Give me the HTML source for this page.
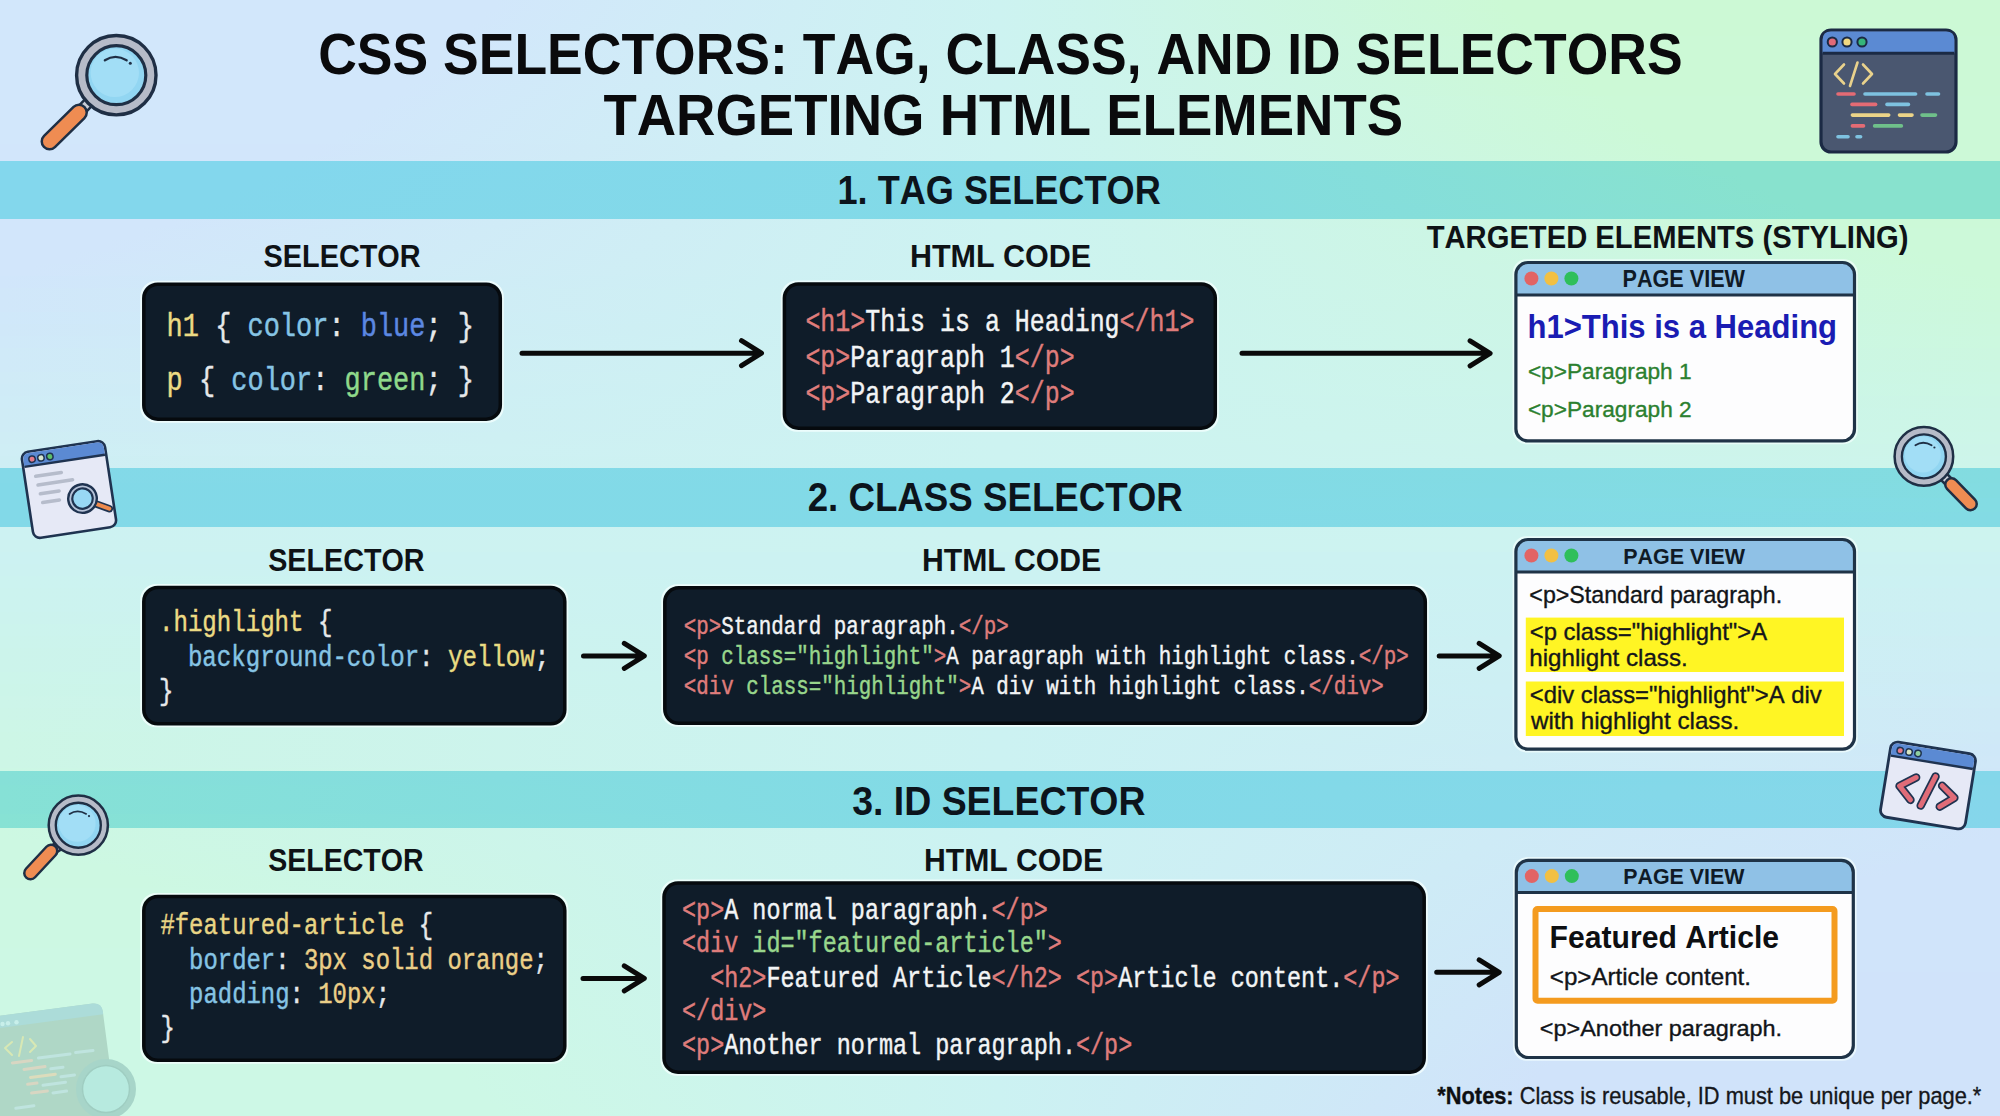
<!DOCTYPE html>
<html><head><meta charset="utf-8"><title>CSS Selectors</title>
<style>
html,body{margin:0;padding:0;width:2000px;height:1116px;overflow:hidden;background:#cfeaf2;}
svg{display:block;font-kerning:none;}
text{font-kerning:none;}
</style></head><body>
<svg width="2000" height="1116" viewBox="0 0 2000 1116">
<defs><linearGradient id="g1" x1="0" y1="0" x2="1" y2="0"><stop offset="0.0000" stop-color="#d2e7fb"/><stop offset="0.2471" stop-color="#d2e7fb"/><stop offset="0.5000" stop-color="#cdf3f1"/><stop offset="0.7529" stop-color="#ccf9d5"/><stop offset="1.0000" stop-color="#ccf9d5"/></linearGradient><linearGradient id="g2" x1="0" y1="0" x2="1" y2="0"><stop offset="0.0000" stop-color="#d2e7fb"/><stop offset="0.2414" stop-color="#d2e7fb"/><stop offset="0.5000" stop-color="#cdf3f1"/><stop offset="0.7586" stop-color="#ccf9d5"/><stop offset="1.0000" stop-color="#ccf9d5"/></linearGradient><linearGradient id="g3" x1="0" y1="0" x2="1" y2="0"><stop offset="0.0000" stop-color="#d2e7fb"/><stop offset="0.2355" stop-color="#d2e7fb"/><stop offset="0.5000" stop-color="#cdf3f1"/><stop offset="0.7645" stop-color="#ccf9d5"/><stop offset="1.0000" stop-color="#ccf9d5"/></linearGradient><linearGradient id="g4" x1="0" y1="0" x2="1" y2="0"><stop offset="0.0000" stop-color="#d2e7fb"/><stop offset="0.2294" stop-color="#d2e7fb"/><stop offset="0.5000" stop-color="#cdf3f1"/><stop offset="0.7706" stop-color="#ccf9d6"/><stop offset="1.0000" stop-color="#ccf9d6"/></linearGradient><linearGradient id="g5" x1="0" y1="0" x2="1" y2="0"><stop offset="0.0000" stop-color="#d2e7fb"/><stop offset="0.2229" stop-color="#d2e7fb"/><stop offset="0.5000" stop-color="#cdf3f1"/><stop offset="0.7771" stop-color="#ccf9d6"/><stop offset="1.0000" stop-color="#ccf9d6"/></linearGradient><linearGradient id="g6" x1="0" y1="0" x2="1" y2="0"><stop offset="0.0000" stop-color="#d2e7fb"/><stop offset="0.2162" stop-color="#d2e7fb"/><stop offset="0.5000" stop-color="#cdf3f1"/><stop offset="0.7838" stop-color="#ccf9d6"/><stop offset="1.0000" stop-color="#ccf9d6"/></linearGradient><linearGradient id="g7" x1="0" y1="0" x2="1" y2="0"><stop offset="0.0000" stop-color="#d2e7fb"/><stop offset="0.2091" stop-color="#d2e7fb"/><stop offset="0.5000" stop-color="#cdf3f1"/><stop offset="0.7909" stop-color="#ccf9d6"/><stop offset="1.0000" stop-color="#ccf9d6"/></linearGradient><linearGradient id="g8" x1="0" y1="0" x2="1" y2="0"><stop offset="0.0000" stop-color="#d2e7fb"/><stop offset="0.2016" stop-color="#d2e7fb"/><stop offset="0.5000" stop-color="#cdf3f1"/><stop offset="0.7984" stop-color="#ccf9d6"/><stop offset="1.0000" stop-color="#ccf9d6"/></linearGradient><linearGradient id="g9" x1="0" y1="0" x2="1" y2="0"><stop offset="0.0000" stop-color="#d2e7fb"/><stop offset="0.1937" stop-color="#d2e7fb"/><stop offset="0.5000" stop-color="#cdf3f1"/><stop offset="0.8063" stop-color="#ccf9d7"/><stop offset="1.0000" stop-color="#ccf9d7"/></linearGradient><linearGradient id="g10" x1="0" y1="0" x2="1" y2="0"><stop offset="0.0000" stop-color="#d2e7fb"/><stop offset="0.1855" stop-color="#d2e7fb"/><stop offset="0.5000" stop-color="#cdf3f1"/><stop offset="0.8145" stop-color="#ccf9d7"/><stop offset="1.0000" stop-color="#ccf9d7"/></linearGradient><linearGradient id="g11" x1="0" y1="0" x2="1" y2="0"><stop offset="0.0000" stop-color="#d2e7fb"/><stop offset="0.1767" stop-color="#d2e7fb"/><stop offset="0.5000" stop-color="#cdf3f1"/><stop offset="0.8233" stop-color="#ccf9d7"/><stop offset="1.0000" stop-color="#ccf9d7"/></linearGradient><linearGradient id="g12" x1="0" y1="0" x2="1" y2="0"><stop offset="0.0000" stop-color="#d2e7fb"/><stop offset="0.1675" stop-color="#d2e7fb"/><stop offset="0.5000" stop-color="#cdf3f1"/><stop offset="0.8325" stop-color="#ccf9d7"/><stop offset="1.0000" stop-color="#ccf9d7"/></linearGradient><linearGradient id="g13" x1="0" y1="0" x2="1" y2="0"><stop offset="0.0000" stop-color="#d2e6fb"/><stop offset="0.1577" stop-color="#d2e6fb"/><stop offset="0.5000" stop-color="#cdf3f1"/><stop offset="0.8423" stop-color="#ccf9d7"/><stop offset="1.0000" stop-color="#ccf9d7"/></linearGradient><linearGradient id="g14" x1="0" y1="0" x2="1" y2="0"><stop offset="0.0000" stop-color="#d2e6fb"/><stop offset="0.1473" stop-color="#d2e6fb"/><stop offset="0.5000" stop-color="#cdf3f1"/><stop offset="0.8527" stop-color="#ccf9d7"/><stop offset="1.0000" stop-color="#ccf9d7"/></linearGradient><linearGradient id="g15" x1="0" y1="0" x2="1" y2="0"><stop offset="0.0000" stop-color="#d2e6fb"/><stop offset="0.1362" stop-color="#d2e6fb"/><stop offset="0.5000" stop-color="#cdf3f1"/><stop offset="0.8638" stop-color="#ccf9d8"/><stop offset="1.0000" stop-color="#ccf9d8"/></linearGradient><linearGradient id="g16" x1="0" y1="0" x2="1" y2="0"><stop offset="0.0000" stop-color="#d2e6fb"/><stop offset="0.1245" stop-color="#d2e6fb"/><stop offset="0.5000" stop-color="#cdf3f1"/><stop offset="0.8755" stop-color="#ccf9d8"/><stop offset="1.0000" stop-color="#ccf9d8"/></linearGradient><linearGradient id="g17" x1="0" y1="0" x2="1" y2="0"><stop offset="0.0000" stop-color="#d2e6fb"/><stop offset="0.1120" stop-color="#d2e6fb"/><stop offset="0.5000" stop-color="#cdf3f1"/><stop offset="0.8880" stop-color="#ccf9d8"/><stop offset="1.0000" stop-color="#ccf9d8"/></linearGradient><linearGradient id="g18" x1="0" y1="0" x2="1" y2="0"><stop offset="0.0000" stop-color="#d2e6fb"/><stop offset="0.0986" stop-color="#d2e6fb"/><stop offset="0.5000" stop-color="#cdf3f1"/><stop offset="0.9014" stop-color="#ccf9d8"/><stop offset="1.0000" stop-color="#ccf9d8"/></linearGradient><linearGradient id="g19" x1="0" y1="0" x2="1" y2="0"><stop offset="0.0000" stop-color="#d2e6fb"/><stop offset="0.0842" stop-color="#d2e6fb"/><stop offset="0.5000" stop-color="#cdf3f1"/><stop offset="0.9158" stop-color="#ccf9d8"/><stop offset="1.0000" stop-color="#ccf9d8"/></linearGradient><linearGradient id="g20" x1="0" y1="0" x2="1" y2="0"><stop offset="0.0000" stop-color="#d2e6fb"/><stop offset="0.0688" stop-color="#d2e6fb"/><stop offset="0.5000" stop-color="#cdf3f1"/><stop offset="0.9312" stop-color="#ccf9d9"/><stop offset="1.0000" stop-color="#ccf9d9"/></linearGradient><linearGradient id="g21" x1="0" y1="0" x2="1" y2="0"><stop offset="0.0000" stop-color="#d2e6fb"/><stop offset="0.0522" stop-color="#d2e6fb"/><stop offset="0.5000" stop-color="#cdf3f1"/><stop offset="0.9478" stop-color="#ccf9d9"/><stop offset="1.0000" stop-color="#ccf9d9"/></linearGradient><linearGradient id="g22" x1="0" y1="0" x2="1" y2="0"><stop offset="0.0000" stop-color="#d2e6fb"/><stop offset="0.0342" stop-color="#d2e6fb"/><stop offset="0.5000" stop-color="#cdf3f1"/><stop offset="0.9658" stop-color="#ccf9d9"/><stop offset="1.0000" stop-color="#ccf9d9"/></linearGradient><linearGradient id="g23" x1="0" y1="0" x2="1" y2="0"><stop offset="0.0000" stop-color="#d2e6fb"/><stop offset="0.0148" stop-color="#d2e6fb"/><stop offset="0.5000" stop-color="#cdf3f1"/><stop offset="0.9852" stop-color="#ccf9d9"/><stop offset="1.0000" stop-color="#ccf9d9"/></linearGradient><linearGradient id="g24" x1="0" y1="0" x2="1" y2="0"><stop offset="0.0000" stop-color="#d1e6fb"/><stop offset="0.5000" stop-color="#cdf3f1"/><stop offset="1.0000" stop-color="#ccf9d9"/></linearGradient><linearGradient id="g25" x1="0" y1="0" x2="1" y2="0"><stop offset="0.0000" stop-color="#d1e7fa"/><stop offset="0.5000" stop-color="#cdf3f1"/><stop offset="1.0000" stop-color="#ccf9da"/></linearGradient><linearGradient id="g26" x1="0" y1="0" x2="1" y2="0"><stop offset="0.0000" stop-color="#d1e7fa"/><stop offset="0.5000" stop-color="#cdf3f1"/><stop offset="1.0000" stop-color="#ccf8dc"/></linearGradient><linearGradient id="g27" x1="0" y1="0" x2="1" y2="0"><stop offset="0.0000" stop-color="#d0e8fa"/><stop offset="0.5000" stop-color="#cdf3f1"/><stop offset="1.0000" stop-color="#ccf8dd"/></linearGradient><linearGradient id="g28" x1="0" y1="0" x2="1" y2="0"><stop offset="0.0000" stop-color="#d0e8f9"/><stop offset="0.5000" stop-color="#cdf3f1"/><stop offset="1.0000" stop-color="#ccf8de"/></linearGradient><linearGradient id="g29" x1="0" y1="0" x2="1" y2="0"><stop offset="0.0000" stop-color="#d0e9f9"/><stop offset="0.5000" stop-color="#cdf3f1"/><stop offset="1.0000" stop-color="#ccf8df"/></linearGradient><linearGradient id="g30" x1="0" y1="0" x2="1" y2="0"><stop offset="0.0000" stop-color="#d0eaf8"/><stop offset="0.5000" stop-color="#cdf3f1"/><stop offset="1.0000" stop-color="#ccf7e0"/></linearGradient><linearGradient id="g31" x1="0" y1="0" x2="1" y2="0"><stop offset="0.0000" stop-color="#d0eaf8"/><stop offset="0.5000" stop-color="#cdf3f1"/><stop offset="1.0000" stop-color="#ccf7e2"/></linearGradient><linearGradient id="g32" x1="0" y1="0" x2="1" y2="0"><stop offset="0.0000" stop-color="#d0ebf7"/><stop offset="0.5000" stop-color="#cdf3f1"/><stop offset="1.0000" stop-color="#ccf7e3"/></linearGradient><linearGradient id="g33" x1="0" y1="0" x2="1" y2="0"><stop offset="0.0000" stop-color="#cfebf7"/><stop offset="0.5000" stop-color="#cdf3f1"/><stop offset="1.0000" stop-color="#ccf7e4"/></linearGradient><linearGradient id="g34" x1="0" y1="0" x2="1" y2="0"><stop offset="0.0000" stop-color="#cfecf7"/><stop offset="0.5000" stop-color="#cdf3f1"/><stop offset="1.0000" stop-color="#ccf6e5"/></linearGradient><linearGradient id="g35" x1="0" y1="0" x2="1" y2="0"><stop offset="0.0000" stop-color="#cfecf6"/><stop offset="0.5000" stop-color="#cdf3f1"/><stop offset="1.0000" stop-color="#ccf6e6"/></linearGradient><linearGradient id="g36" x1="0" y1="0" x2="1" y2="0"><stop offset="0.0000" stop-color="#cfecf6"/><stop offset="0.5000" stop-color="#cdf3f1"/><stop offset="1.0000" stop-color="#cdf6e7"/></linearGradient><linearGradient id="g37" x1="0" y1="0" x2="1" y2="0"><stop offset="0.0000" stop-color="#cfedf5"/><stop offset="0.5000" stop-color="#cdf3f1"/><stop offset="1.0000" stop-color="#cdf6e8"/></linearGradient><linearGradient id="g38" x1="0" y1="0" x2="1" y2="0"><stop offset="0.0000" stop-color="#cfeef5"/><stop offset="0.5000" stop-color="#cdf3f1"/><stop offset="1.0000" stop-color="#cdf5e9"/></linearGradient><linearGradient id="g39" x1="0" y1="0" x2="1" y2="0"><stop offset="0.0000" stop-color="#ceeef4"/><stop offset="0.5000" stop-color="#cdf3f1"/><stop offset="1.0000" stop-color="#cdf5ea"/></linearGradient><linearGradient id="g40" x1="0" y1="0" x2="1" y2="0"><stop offset="0.0000" stop-color="#ceeff4"/><stop offset="0.5000" stop-color="#cdf3f1"/><stop offset="1.0000" stop-color="#cdf5eb"/></linearGradient><linearGradient id="g41" x1="0" y1="0" x2="1" y2="0"><stop offset="0.0000" stop-color="#ceeff4"/><stop offset="0.5000" stop-color="#cdf3f1"/><stop offset="1.0000" stop-color="#cdf5ec"/></linearGradient><linearGradient id="g42" x1="0" y1="0" x2="1" y2="0"><stop offset="0.0000" stop-color="#cef0f3"/><stop offset="0.5000" stop-color="#cdf3f1"/><stop offset="1.0000" stop-color="#cdf4ed"/></linearGradient><linearGradient id="g43" x1="0" y1="0" x2="1" y2="0"><stop offset="0.0000" stop-color="#cef1f3"/><stop offset="0.5000" stop-color="#cdf3f1"/><stop offset="1.0000" stop-color="#cdf4ee"/></linearGradient><linearGradient id="g44" x1="0" y1="0" x2="1" y2="0"><stop offset="0.0000" stop-color="#cef1f2"/><stop offset="0.5000" stop-color="#cdf3f1"/><stop offset="1.0000" stop-color="#cdf4ee"/></linearGradient><linearGradient id="g45" x1="0" y1="0" x2="1" y2="0"><stop offset="0.0000" stop-color="#cdf2f2"/><stop offset="0.5000" stop-color="#cdf3f1"/><stop offset="1.0000" stop-color="#cdf4ef"/></linearGradient><linearGradient id="g46" x1="0" y1="0" x2="1" y2="0"><stop offset="0.0000" stop-color="#cdf2f1"/><stop offset="0.5000" stop-color="#cdf3f1"/><stop offset="1.0000" stop-color="#cdf3f0"/></linearGradient><linearGradient id="g47" x1="0" y1="0" x2="1" y2="0"><stop offset="0.0000" stop-color="#ccf2f2"/><stop offset="0.5000" stop-color="#ccf2f2"/><stop offset="1.0000" stop-color="#ccf2f2"/></linearGradient><linearGradient id="g48" x1="0" y1="0" x2="1" y2="0"><stop offset="0.0000" stop-color="#ccf2f1"/><stop offset="0.5000" stop-color="#ccf2f2"/><stop offset="1.0000" stop-color="#ccf1f2"/></linearGradient><linearGradient id="g49" x1="0" y1="0" x2="1" y2="0"><stop offset="0.0000" stop-color="#ccf3f0"/><stop offset="0.5000" stop-color="#ccf2f2"/><stop offset="1.0000" stop-color="#ccf1f3"/></linearGradient><linearGradient id="g50" x1="0" y1="0" x2="1" y2="0"><stop offset="0.0000" stop-color="#ccf3ef"/><stop offset="0.5000" stop-color="#ccf2f2"/><stop offset="1.0000" stop-color="#cdf0f3"/></linearGradient><linearGradient id="g51" x1="0" y1="0" x2="1" y2="0"><stop offset="0.0000" stop-color="#ccf3ef"/><stop offset="0.5000" stop-color="#ccf2f2"/><stop offset="1.0000" stop-color="#cdf0f3"/></linearGradient><linearGradient id="g52" x1="0" y1="0" x2="1" y2="0"><stop offset="0.0000" stop-color="#ccf3ee"/><stop offset="0.5000" stop-color="#ccf2f2"/><stop offset="1.0000" stop-color="#cdeff4"/></linearGradient><linearGradient id="g53" x1="0" y1="0" x2="1" y2="0"><stop offset="0.0000" stop-color="#ccf4ed"/><stop offset="0.5000" stop-color="#ccf2f2"/><stop offset="1.0000" stop-color="#cdeff4"/></linearGradient><linearGradient id="g54" x1="0" y1="0" x2="1" y2="0"><stop offset="0.0000" stop-color="#ccf4ec"/><stop offset="0.5000" stop-color="#ccf2f2"/><stop offset="1.0000" stop-color="#ceeef4"/></linearGradient><linearGradient id="g55" x1="0" y1="0" x2="1" y2="0"><stop offset="0.0000" stop-color="#ccf4eb"/><stop offset="0.5000" stop-color="#ccf2f2"/><stop offset="1.0000" stop-color="#ceeef5"/></linearGradient><linearGradient id="g56" x1="0" y1="0" x2="1" y2="0"><stop offset="0.0000" stop-color="#ccf4eb"/><stop offset="0.5000" stop-color="#ccf2f2"/><stop offset="1.0000" stop-color="#ceedf5"/></linearGradient><linearGradient id="g57" x1="0" y1="0" x2="1" y2="0"><stop offset="0.0000" stop-color="#ccf5ea"/><stop offset="0.5000" stop-color="#ccf2f2"/><stop offset="1.0000" stop-color="#ceecf5"/></linearGradient><linearGradient id="g58" x1="0" y1="0" x2="1" y2="0"><stop offset="0.0000" stop-color="#ccf5e9"/><stop offset="0.5000" stop-color="#ccf2f2"/><stop offset="1.0000" stop-color="#ceecf6"/></linearGradient><linearGradient id="g59" x1="0" y1="0" x2="1" y2="0"><stop offset="0.0000" stop-color="#cdf5e9"/><stop offset="0.5000" stop-color="#ccf2f2"/><stop offset="1.0000" stop-color="#cfebf6"/></linearGradient><linearGradient id="g60" x1="0" y1="0" x2="1" y2="0"><stop offset="0.0000" stop-color="#cdf5e8"/><stop offset="0.5000" stop-color="#ccf2f2"/><stop offset="1.0000" stop-color="#cfeaf6"/></linearGradient><linearGradient id="g61" x1="0" y1="0" x2="1" y2="0"><stop offset="0.0000" stop-color="#cdf6e7"/><stop offset="0.5000" stop-color="#ccf2f2"/><stop offset="1.0000" stop-color="#cfeaf7"/></linearGradient><linearGradient id="g62" x1="0" y1="0" x2="1" y2="0"><stop offset="0.0000" stop-color="#cdf6e6"/><stop offset="0.5000" stop-color="#ccf2f2"/><stop offset="1.0000" stop-color="#cfe9f7"/></linearGradient><linearGradient id="g63" x1="0" y1="0" x2="1" y2="0"><stop offset="0.0000" stop-color="#cdf6e6"/><stop offset="0.5000" stop-color="#ccf2f2"/><stop offset="1.0000" stop-color="#cfe8f8"/></linearGradient><linearGradient id="g64" x1="0" y1="0" x2="1" y2="0"><stop offset="0.0000" stop-color="#cdf6e6"/><stop offset="0.5000" stop-color="#ccf2f2"/><stop offset="1.0000" stop-color="#d0e8f8"/></linearGradient><linearGradient id="g65" x1="0" y1="0" x2="1" y2="0"><stop offset="0.0000" stop-color="#cdf7e5"/><stop offset="0.5000" stop-color="#ccf2f2"/><stop offset="1.0000" stop-color="#d0e7f8"/></linearGradient><linearGradient id="g66" x1="0" y1="0" x2="1" y2="0"><stop offset="0.0000" stop-color="#cdf7e4"/><stop offset="0.5000" stop-color="#ccf2f2"/><stop offset="1.0000" stop-color="#d0e7f9"/></linearGradient><linearGradient id="g67" x1="0" y1="0" x2="1" y2="0"><stop offset="0.0000" stop-color="#cdf7e3"/><stop offset="0.5000" stop-color="#ccf2f2"/><stop offset="1.0000" stop-color="#d0e6f9"/></linearGradient><linearGradient id="g68" x1="0" y1="0" x2="1" y2="0"><stop offset="0.0000" stop-color="#cdf7e3"/><stop offset="0.5000" stop-color="#ccf2f2"/><stop offset="1.0000" stop-color="#d1e5f9"/></linearGradient><linearGradient id="g69" x1="0" y1="0" x2="1" y2="0"><stop offset="0.0000" stop-color="#cdf8e3"/><stop offset="0.5000" stop-color="#ccf2f2"/><stop offset="1.0000" stop-color="#d1e5fa"/></linearGradient><linearGradient id="g70" x1="0" y1="0" x2="1" y2="0"><stop offset="0.0000" stop-color="#cdf8e2"/><stop offset="0.5000" stop-color="#ccf2f2"/><stop offset="1.0000" stop-color="#d1e4fa"/></linearGradient><linearGradient id="g71" x1="0" y1="0" x2="1" y2="0"><stop offset="0.0000" stop-color="#cdf8e2"/><stop offset="0.0165" stop-color="#cdf8e2"/><stop offset="0.5000" stop-color="#ccf2f2"/><stop offset="0.9835" stop-color="#d0e4fa"/><stop offset="1.0000" stop-color="#d0e4fa"/></linearGradient><linearGradient id="g72" x1="0" y1="0" x2="1" y2="0"><stop offset="0.0000" stop-color="#cdf8e2"/><stop offset="0.0358" stop-color="#cdf8e2"/><stop offset="0.5000" stop-color="#ccf2f2"/><stop offset="0.9642" stop-color="#d0e4fa"/><stop offset="1.0000" stop-color="#d0e4fa"/></linearGradient><linearGradient id="g73" x1="0" y1="0" x2="1" y2="0"><stop offset="0.0000" stop-color="#cdf8e2"/><stop offset="0.0536" stop-color="#cdf8e2"/><stop offset="0.5000" stop-color="#ccf2f2"/><stop offset="0.9464" stop-color="#d0e4fa"/><stop offset="1.0000" stop-color="#d0e4fa"/></linearGradient><linearGradient id="g74" x1="0" y1="0" x2="1" y2="0"><stop offset="0.0000" stop-color="#cdf8e2"/><stop offset="0.0701" stop-color="#cdf8e2"/><stop offset="0.5000" stop-color="#ccf2f2"/><stop offset="0.9299" stop-color="#d0e4fa"/><stop offset="1.0000" stop-color="#d0e4fa"/></linearGradient><linearGradient id="g75" x1="0" y1="0" x2="1" y2="0"><stop offset="0.0000" stop-color="#cdf8e3"/><stop offset="0.0854" stop-color="#cdf8e3"/><stop offset="0.5000" stop-color="#ccf2f2"/><stop offset="0.9146" stop-color="#d0e4fa"/><stop offset="1.0000" stop-color="#d0e4fa"/></linearGradient><linearGradient id="g76" x1="0" y1="0" x2="1" y2="0"><stop offset="0.0000" stop-color="#cdf8e3"/><stop offset="0.0997" stop-color="#cdf8e3"/><stop offset="0.5000" stop-color="#ccf2f2"/><stop offset="0.9003" stop-color="#d0e4fa"/><stop offset="1.0000" stop-color="#d0e4fa"/></linearGradient><linearGradient id="g77" x1="0" y1="0" x2="1" y2="0"><stop offset="0.0000" stop-color="#cdf8e3"/><stop offset="0.1130" stop-color="#cdf8e3"/><stop offset="0.5000" stop-color="#ccf2f2"/><stop offset="0.8870" stop-color="#d0e4fa"/><stop offset="1.0000" stop-color="#d0e4fa"/></linearGradient><linearGradient id="g78" x1="0" y1="0" x2="1" y2="0"><stop offset="0.0000" stop-color="#cdf8e3"/><stop offset="0.1255" stop-color="#cdf8e3"/><stop offset="0.5000" stop-color="#ccf2f2"/><stop offset="0.8745" stop-color="#d0e4fa"/><stop offset="1.0000" stop-color="#d0e4fa"/></linearGradient><linearGradient id="g79" x1="0" y1="0" x2="1" y2="0"><stop offset="0.0000" stop-color="#cdf8e3"/><stop offset="0.1372" stop-color="#cdf8e3"/><stop offset="0.5000" stop-color="#ccf2f2"/><stop offset="0.8628" stop-color="#d0e4fa"/><stop offset="1.0000" stop-color="#d0e4fa"/></linearGradient><linearGradient id="g80" x1="0" y1="0" x2="1" y2="0"><stop offset="0.0000" stop-color="#cdf8e4"/><stop offset="0.1482" stop-color="#cdf8e4"/><stop offset="0.5000" stop-color="#ccf2f2"/><stop offset="0.8518" stop-color="#d0e4fa"/><stop offset="1.0000" stop-color="#d0e4fa"/></linearGradient><linearGradient id="g81" x1="0" y1="0" x2="1" y2="0"><stop offset="0.0000" stop-color="#cdf8e4"/><stop offset="0.1585" stop-color="#cdf8e4"/><stop offset="0.5000" stop-color="#ccf2f2"/><stop offset="0.8415" stop-color="#d0e4fa"/><stop offset="1.0000" stop-color="#d0e4fa"/></linearGradient><linearGradient id="g82" x1="0" y1="0" x2="1" y2="0"><stop offset="0.0000" stop-color="#cdf8e4"/><stop offset="0.1683" stop-color="#cdf8e4"/><stop offset="0.5000" stop-color="#ccf2f2"/><stop offset="0.8317" stop-color="#d0e3fa"/><stop offset="1.0000" stop-color="#d0e3fa"/></linearGradient><linearGradient id="g83" x1="0" y1="0" x2="1" y2="0"><stop offset="0.0000" stop-color="#cdf8e4"/><stop offset="0.1775" stop-color="#cdf8e4"/><stop offset="0.5000" stop-color="#ccf2f2"/><stop offset="0.8225" stop-color="#d0e3fa"/><stop offset="1.0000" stop-color="#d0e3fa"/></linearGradient><linearGradient id="g84" x1="0" y1="0" x2="1" y2="0"><stop offset="0.0000" stop-color="#cdf8e4"/><stop offset="0.1862" stop-color="#cdf8e4"/><stop offset="0.5000" stop-color="#ccf2f2"/><stop offset="0.8138" stop-color="#d0e3fa"/><stop offset="1.0000" stop-color="#d0e3fa"/></linearGradient><linearGradient id="g85" x1="0" y1="0" x2="1" y2="0"><stop offset="0.0000" stop-color="#cdf8e4"/><stop offset="0.1944" stop-color="#cdf8e4"/><stop offset="0.5000" stop-color="#ccf2f2"/><stop offset="0.8056" stop-color="#d0e3fa"/><stop offset="1.0000" stop-color="#d0e3fa"/></linearGradient><linearGradient id="g86" x1="0" y1="0" x2="1" y2="0"><stop offset="0.0000" stop-color="#cdf8e5"/><stop offset="0.2022" stop-color="#cdf8e5"/><stop offset="0.5000" stop-color="#ccf2f2"/><stop offset="0.7978" stop-color="#d0e3fa"/><stop offset="1.0000" stop-color="#d0e3fa"/></linearGradient><linearGradient id="g87" x1="0" y1="0" x2="1" y2="0"><stop offset="0.0000" stop-color="#cdf8e5"/><stop offset="0.2097" stop-color="#cdf8e5"/><stop offset="0.5000" stop-color="#ccf2f2"/><stop offset="0.7903" stop-color="#d0e3fa"/><stop offset="1.0000" stop-color="#d0e3fa"/></linearGradient><linearGradient id="g88" x1="0" y1="0" x2="1" y2="0"><stop offset="0.0000" stop-color="#cdf8e5"/><stop offset="0.2168" stop-color="#cdf8e5"/><stop offset="0.5000" stop-color="#ccf2f2"/><stop offset="0.7832" stop-color="#d0e3fa"/><stop offset="1.0000" stop-color="#d0e3fa"/></linearGradient><linearGradient id="g89" x1="0" y1="0" x2="1" y2="0"><stop offset="0.0000" stop-color="#cdf8e5"/><stop offset="0.2235" stop-color="#cdf8e5"/><stop offset="0.5000" stop-color="#ccf2f2"/><stop offset="0.7765" stop-color="#d0e3fa"/><stop offset="1.0000" stop-color="#d0e3fa"/></linearGradient><linearGradient id="g90" x1="0" y1="0" x2="1" y2="0"><stop offset="0.0000" stop-color="#cdf8e5"/><stop offset="0.2299" stop-color="#cdf8e5"/><stop offset="0.5000" stop-color="#ccf2f2"/><stop offset="0.7701" stop-color="#d0e3fa"/><stop offset="1.0000" stop-color="#d0e3fa"/></linearGradient><linearGradient id="g91" x1="0" y1="0" x2="1" y2="0"><stop offset="0.0000" stop-color="#cdf8e6"/><stop offset="0.2360" stop-color="#cdf8e6"/><stop offset="0.5000" stop-color="#ccf2f2"/><stop offset="0.7640" stop-color="#d0e3fa"/><stop offset="1.0000" stop-color="#d0e3fa"/></linearGradient><linearGradient id="g92" x1="0" y1="0" x2="1" y2="0"><stop offset="0.0000" stop-color="#cdf8e6"/><stop offset="0.2419" stop-color="#cdf8e6"/><stop offset="0.5000" stop-color="#ccf2f2"/><stop offset="0.7581" stop-color="#d0e3fa"/><stop offset="1.0000" stop-color="#d0e3fa"/></linearGradient><linearGradient id="g93" x1="0" y1="0" x2="1" y2="0"><stop offset="0.0000" stop-color="#cdf8e6"/><stop offset="0.2473" stop-color="#cdf8e6"/><stop offset="0.5000" stop-color="#ccf2f2"/><stop offset="0.7527" stop-color="#d0e3fa"/><stop offset="1.0000" stop-color="#d0e3fa"/></linearGradient><linearGradient id="g94" x1="0" y1="0" x2="1" y2="0"><stop offset="0.0000" stop-color="#83d7ed"/><stop offset="0.1414" stop-color="#83d7ed"/><stop offset="0.5000" stop-color="#82dae7"/><stop offset="0.8586" stop-color="#88e2ce"/><stop offset="1.0000" stop-color="#88e2ce"/></linearGradient><linearGradient id="g95" x1="0" y1="0" x2="1" y2="0"><stop offset="0.0000" stop-color="#83d7ed"/><stop offset="0.1275" stop-color="#83d7ed"/><stop offset="0.5000" stop-color="#82dae7"/><stop offset="0.8725" stop-color="#88e2ce"/><stop offset="1.0000" stop-color="#88e2ce"/></linearGradient><linearGradient id="g96" x1="0" y1="0" x2="1" y2="0"><stop offset="0.0000" stop-color="#83d7ec"/><stop offset="0.1130" stop-color="#83d7ec"/><stop offset="0.5000" stop-color="#82dae7"/><stop offset="0.8870" stop-color="#88e2ce"/><stop offset="1.0000" stop-color="#88e2ce"/></linearGradient><linearGradient id="g97" x1="0" y1="0" x2="1" y2="0"><stop offset="0.0000" stop-color="#83d7ec"/><stop offset="0.0974" stop-color="#83d7ec"/><stop offset="0.5000" stop-color="#82dae7"/><stop offset="0.9026" stop-color="#88e2ce"/><stop offset="1.0000" stop-color="#88e2ce"/></linearGradient><linearGradient id="g98" x1="0" y1="0" x2="1" y2="0"><stop offset="0.0000" stop-color="#83d9e8"/><stop offset="0.5000" stop-color="#82dae7"/><stop offset="1.0000" stop-color="#83dce0"/></linearGradient><linearGradient id="g99" x1="0" y1="0" x2="1" y2="0"><stop offset="0.0000" stop-color="#82d9e8"/><stop offset="0.5000" stop-color="#82dae7"/><stop offset="1.0000" stop-color="#83dce1"/></linearGradient><linearGradient id="g100" x1="0" y1="0" x2="1" y2="0"><stop offset="0.0000" stop-color="#82d9e8"/><stop offset="0.5000" stop-color="#82dae7"/><stop offset="1.0000" stop-color="#83dce3"/></linearGradient><linearGradient id="g101" x1="0" y1="0" x2="1" y2="0"><stop offset="0.0000" stop-color="#82d9e8"/><stop offset="0.5000" stop-color="#82dae7"/><stop offset="1.0000" stop-color="#83dbe4"/></linearGradient><linearGradient id="g102" x1="0" y1="0" x2="1" y2="0"><stop offset="0.0000" stop-color="#86e0d7"/><stop offset="0.5000" stop-color="#82dae7"/><stop offset="1.0000" stop-color="#84d7ea"/></linearGradient><linearGradient id="g103" x1="0" y1="0" x2="1" y2="0"><stop offset="0.0000" stop-color="#86e1d6"/><stop offset="0.5000" stop-color="#82dae7"/><stop offset="1.0000" stop-color="#85d7ea"/></linearGradient><linearGradient id="g104" x1="0" y1="0" x2="1" y2="0"><stop offset="0.0000" stop-color="#86e1d5"/><stop offset="0.5000" stop-color="#82dae7"/><stop offset="1.0000" stop-color="#85d6eb"/></linearGradient><linearGradient id="g105" x1="0" y1="0" x2="1" y2="0"><stop offset="0.0000" stop-color="#87e2d4"/><stop offset="0.5000" stop-color="#82dae7"/><stop offset="1.0000" stop-color="#85d6eb"/></linearGradient></defs>
<g shape-rendering="crispEdges"><rect x="0" y="0" width="2000" height="13" fill="url(#g1)"/><rect x="0" y="12" width="2000" height="13" fill="url(#g2)"/><rect x="0" y="24" width="2000" height="13" fill="url(#g3)"/><rect x="0" y="36" width="2000" height="13" fill="url(#g4)"/><rect x="0" y="48" width="2000" height="13" fill="url(#g5)"/><rect x="0" y="60" width="2000" height="13" fill="url(#g6)"/><rect x="0" y="72" width="2000" height="13" fill="url(#g7)"/><rect x="0" y="84" width="2000" height="13" fill="url(#g8)"/><rect x="0" y="96" width="2000" height="13" fill="url(#g9)"/><rect x="0" y="108" width="2000" height="13" fill="url(#g10)"/><rect x="0" y="120" width="2000" height="13" fill="url(#g11)"/><rect x="0" y="132" width="2000" height="13" fill="url(#g12)"/><rect x="0" y="144" width="2000" height="13" fill="url(#g13)"/><rect x="0" y="156" width="2000" height="13" fill="url(#g14)"/><rect x="0" y="168" width="2000" height="13" fill="url(#g15)"/><rect x="0" y="180" width="2000" height="13" fill="url(#g16)"/><rect x="0" y="192" width="2000" height="13" fill="url(#g17)"/><rect x="0" y="204" width="2000" height="13" fill="url(#g18)"/><rect x="0" y="216" width="2000" height="13" fill="url(#g19)"/><rect x="0" y="228" width="2000" height="13" fill="url(#g20)"/><rect x="0" y="240" width="2000" height="13" fill="url(#g21)"/><rect x="0" y="252" width="2000" height="13" fill="url(#g22)"/><rect x="0" y="264" width="2000" height="13" fill="url(#g23)"/><rect x="0" y="276" width="2000" height="13" fill="url(#g24)"/><rect x="0" y="288" width="2000" height="13" fill="url(#g25)"/><rect x="0" y="300" width="2000" height="13" fill="url(#g26)"/><rect x="0" y="312" width="2000" height="13" fill="url(#g27)"/><rect x="0" y="324" width="2000" height="13" fill="url(#g28)"/><rect x="0" y="336" width="2000" height="13" fill="url(#g29)"/><rect x="0" y="348" width="2000" height="13" fill="url(#g30)"/><rect x="0" y="360" width="2000" height="13" fill="url(#g31)"/><rect x="0" y="372" width="2000" height="13" fill="url(#g32)"/><rect x="0" y="384" width="2000" height="13" fill="url(#g33)"/><rect x="0" y="396" width="2000" height="13" fill="url(#g34)"/><rect x="0" y="408" width="2000" height="13" fill="url(#g35)"/><rect x="0" y="420" width="2000" height="13" fill="url(#g36)"/><rect x="0" y="432" width="2000" height="13" fill="url(#g37)"/><rect x="0" y="444" width="2000" height="13" fill="url(#g38)"/><rect x="0" y="456" width="2000" height="13" fill="url(#g39)"/><rect x="0" y="468" width="2000" height="13" fill="url(#g40)"/><rect x="0" y="480" width="2000" height="13" fill="url(#g41)"/><rect x="0" y="492" width="2000" height="13" fill="url(#g42)"/><rect x="0" y="504" width="2000" height="13" fill="url(#g43)"/><rect x="0" y="516" width="2000" height="13" fill="url(#g44)"/><rect x="0" y="528" width="2000" height="13" fill="url(#g45)"/><rect x="0" y="540" width="2000" height="13" fill="url(#g46)"/><rect x="0" y="552" width="2000" height="13" fill="url(#g47)"/><rect x="0" y="564" width="2000" height="13" fill="url(#g48)"/><rect x="0" y="576" width="2000" height="13" fill="url(#g49)"/><rect x="0" y="588" width="2000" height="13" fill="url(#g50)"/><rect x="0" y="600" width="2000" height="13" fill="url(#g51)"/><rect x="0" y="612" width="2000" height="13" fill="url(#g52)"/><rect x="0" y="624" width="2000" height="13" fill="url(#g53)"/><rect x="0" y="636" width="2000" height="13" fill="url(#g54)"/><rect x="0" y="648" width="2000" height="13" fill="url(#g55)"/><rect x="0" y="660" width="2000" height="13" fill="url(#g56)"/><rect x="0" y="672" width="2000" height="13" fill="url(#g57)"/><rect x="0" y="684" width="2000" height="13" fill="url(#g58)"/><rect x="0" y="696" width="2000" height="13" fill="url(#g59)"/><rect x="0" y="708" width="2000" height="13" fill="url(#g60)"/><rect x="0" y="720" width="2000" height="13" fill="url(#g61)"/><rect x="0" y="732" width="2000" height="13" fill="url(#g62)"/><rect x="0" y="744" width="2000" height="13" fill="url(#g63)"/><rect x="0" y="756" width="2000" height="13" fill="url(#g64)"/><rect x="0" y="768" width="2000" height="13" fill="url(#g65)"/><rect x="0" y="780" width="2000" height="13" fill="url(#g66)"/><rect x="0" y="792" width="2000" height="13" fill="url(#g67)"/><rect x="0" y="804" width="2000" height="13" fill="url(#g68)"/><rect x="0" y="816" width="2000" height="13" fill="url(#g69)"/><rect x="0" y="828" width="2000" height="13" fill="url(#g70)"/><rect x="0" y="840" width="2000" height="13" fill="url(#g71)"/><rect x="0" y="852" width="2000" height="13" fill="url(#g72)"/><rect x="0" y="864" width="2000" height="13" fill="url(#g73)"/><rect x="0" y="876" width="2000" height="13" fill="url(#g74)"/><rect x="0" y="888" width="2000" height="13" fill="url(#g75)"/><rect x="0" y="900" width="2000" height="13" fill="url(#g76)"/><rect x="0" y="912" width="2000" height="13" fill="url(#g77)"/><rect x="0" y="924" width="2000" height="13" fill="url(#g78)"/><rect x="0" y="936" width="2000" height="13" fill="url(#g79)"/><rect x="0" y="948" width="2000" height="13" fill="url(#g80)"/><rect x="0" y="960" width="2000" height="13" fill="url(#g81)"/><rect x="0" y="972" width="2000" height="13" fill="url(#g82)"/><rect x="0" y="984" width="2000" height="13" fill="url(#g83)"/><rect x="0" y="996" width="2000" height="13" fill="url(#g84)"/><rect x="0" y="1008" width="2000" height="13" fill="url(#g85)"/><rect x="0" y="1020" width="2000" height="13" fill="url(#g86)"/><rect x="0" y="1032" width="2000" height="13" fill="url(#g87)"/><rect x="0" y="1044" width="2000" height="13" fill="url(#g88)"/><rect x="0" y="1056" width="2000" height="13" fill="url(#g89)"/><rect x="0" y="1068" width="2000" height="13" fill="url(#g90)"/><rect x="0" y="1080" width="2000" height="13" fill="url(#g91)"/><rect x="0" y="1092" width="2000" height="13" fill="url(#g92)"/><rect x="0" y="1104" width="2000" height="12" fill="url(#g93)"/><rect x="0" y="161" width="2000" height="16" fill="url(#g94)"/><rect x="0" y="176" width="2000" height="15" fill="url(#g95)"/><rect x="0" y="190" width="2000" height="15" fill="url(#g96)"/><rect x="0" y="204" width="2000" height="15" fill="url(#g97)"/><rect x="0" y="468" width="2000" height="16" fill="url(#g98)"/><rect x="0" y="483" width="2000" height="16" fill="url(#g99)"/><rect x="0" y="498" width="2000" height="15" fill="url(#g100)"/><rect x="0" y="512" width="2000" height="15" fill="url(#g101)"/><rect x="0" y="771" width="2000" height="15" fill="url(#g102)"/><rect x="0" y="785" width="2000" height="16" fill="url(#g103)"/><rect x="0" y="800" width="2000" height="15" fill="url(#g104)"/><rect x="0" y="814" width="2000" height="14" fill="url(#g105)"/></g>
<g transform="translate(101.6,1002.4) rotate(-7.5)">
 <rect x="-170" y="0" width="170" height="160" rx="9" fill="#afd7c6"/>
 <path d="M-170 12 V0 H-9 Q0 0 0 9 V12 Z" fill="#acdcd9"/>
</g>
<circle cx="2.5" cy="1024" r="2.2" fill="#c8efea"/>
<circle cx="8" cy="1023.3" r="2.2" fill="#c8efea"/>
<circle cx="16.5" cy="1022.2" r="2.2" fill="#c8efea"/>
<path d="M12 1042 L5 1048 L12 1055 M23 1037 L19 1056 M30 1039 L36 1046 L30 1052" fill="none" stroke="#d8e8b4" stroke-width="2" stroke-linecap="round" stroke-linejoin="round"/>
<line x1="75.6" y1="1052.6" x2="93.0" y2="1050.4" stroke="#bfe4df" stroke-width="3" stroke-linecap="round"/>
<line x1="38.4" y1="1058.1" x2="70.0" y2="1053.9" stroke="#bfe4df" stroke-width="3" stroke-linecap="round"/>
<line x1="12.4" y1="1062.9" x2="31.6" y2="1060.5" stroke="#d8d6c2" stroke-width="3" stroke-linecap="round"/>
<line x1="24.0" y1="1069.4" x2="45.0" y2="1066.6" stroke="#d8d6c2" stroke-width="3" stroke-linecap="round"/>
<line x1="50.8" y1="1068.8" x2="63.0" y2="1067.2" stroke="#bfe4df" stroke-width="3" stroke-linecap="round"/>
<line x1="30.5" y1="1077.4" x2="55.3" y2="1074.2" stroke="#dcdcbc" stroke-width="3" stroke-linecap="round"/>
<line x1="61.0" y1="1076.7" x2="74.5" y2="1074.9" stroke="#bfe4df" stroke-width="3" stroke-linecap="round"/>
<line x1="27.6" y1="1084.3" x2="37.0" y2="1083.1" stroke="#d8d6c2" stroke-width="3" stroke-linecap="round"/>
<line x1="43.0" y1="1085.2" x2="65.5" y2="1082.2" stroke="#bfe4df" stroke-width="3" stroke-linecap="round"/>
<line x1="31.6" y1="1093.0" x2="47.4" y2="1091.0" stroke="#d8d6c2" stroke-width="3" stroke-linecap="round"/>
<line x1="53.0" y1="1092.9" x2="66.6" y2="1091.1" stroke="#bfe4df" stroke-width="3" stroke-linecap="round"/>
<line x1="15.8" y1="1108.2" x2="33.9" y2="1105.8" stroke="#bfe4df" stroke-width="3" stroke-linecap="round"/>
<circle cx="106" cy="1089" r="27" fill="#b7eadf" stroke="#a7d5c9" stroke-width="6"/>
<circle cx="106" cy="1089" r="23.5" fill="none" stroke="#9fcdc1" stroke-width="1.5"/>
<text x="318.21" y="74.00" font-family='"Liberation Sans", sans-serif' font-size="57.41" font-weight="bold" textLength="1364.38" lengthAdjust="spacingAndGlyphs"><tspan fill="#0a0a0c">CSS&#160;SELECTORS:&#160;TAG,&#160;CLASS,&#160;AND&#160;ID&#160;SELECTORS</tspan></text>
<text x="603.39" y="135.00" font-family='"Liberation Sans", sans-serif' font-size="56.69" font-weight="bold" textLength="799.74" lengthAdjust="spacingAndGlyphs"><tspan fill="#0a0a0c">TARGETING&#160;HTML&#160;ELEMENTS</tspan></text>
<text x="837.52" y="204.00" font-family='"Liberation Sans", sans-serif' font-size="40.70" font-weight="bold" textLength="323.22" lengthAdjust="spacingAndGlyphs"><tspan fill="#0c141c">1.&#160;TAG&#160;SELECTOR</tspan></text>
<text x="807.63" y="511.00" font-family='"Liberation Sans", sans-serif' font-size="39.97" font-weight="bold" textLength="375.12" lengthAdjust="spacingAndGlyphs"><tspan fill="#0c141c">2.&#160;CLASS&#160;SELECTOR</tspan></text>
<text x="852.14" y="814.50" font-family='"Liberation Sans", sans-serif' font-size="40.41" font-weight="bold" textLength="293.43" lengthAdjust="spacingAndGlyphs"><tspan fill="#0c141c">3.&#160;ID&#160;SELECTOR</tspan></text>
<text x="263.57" y="267.00" font-family='"Liberation Sans", sans-serif' font-size="31.98" font-weight="bold" textLength="157.02" lengthAdjust="spacingAndGlyphs"><tspan fill="#0e1216">SELECTOR</tspan></text>
<text x="909.96" y="267.00" font-family='"Liberation Sans", sans-serif' font-size="31.98" font-weight="bold" textLength="181.23" lengthAdjust="spacingAndGlyphs"><tspan fill="#0e1216">HTML&#160;CODE</tspan></text>
<text x="1426.67" y="247.50" font-family='"Liberation Sans", sans-serif' font-size="31.98" font-weight="bold" textLength="481.78" lengthAdjust="spacingAndGlyphs"><tspan fill="#0e1216">TARGETED&#160;ELEMENTS&#160;(STYLING)</tspan></text>
<text x="268.17" y="571.00" font-family='"Liberation Sans", sans-serif' font-size="31.25" font-weight="bold" textLength="156.42" lengthAdjust="spacingAndGlyphs"><tspan fill="#0e1216">SELECTOR</tspan></text>
<text x="921.98" y="571.00" font-family='"Liberation Sans", sans-serif' font-size="31.98" font-weight="bold" textLength="179.19" lengthAdjust="spacingAndGlyphs"><tspan fill="#0e1216">HTML&#160;CODE</tspan></text>
<text x="268.18" y="871.00" font-family='"Liberation Sans", sans-serif' font-size="30.52" font-weight="bold" textLength="155.41" lengthAdjust="spacingAndGlyphs"><tspan fill="#0e1216">SELECTOR</tspan></text>
<text x="923.98" y="871.00" font-family='"Liberation Sans", sans-serif' font-size="30.52" font-weight="bold" textLength="179.19" lengthAdjust="spacingAndGlyphs"><tspan fill="#0e1216">HTML&#160;CODE</tspan></text>
<path d="M522.0 353.2 H759.5 M741.5 340.7 L761.5 353.2 L741.5 365.7" fill="none" stroke="#0a0a0a" stroke-width="5" stroke-linecap="round" stroke-linejoin="round"/>
<path d="M1242.0 353.3 H1488.1 M1470.1 340.8 L1490.1 353.3 L1470.1 365.8" fill="none" stroke="#0a0a0a" stroke-width="5" stroke-linecap="round" stroke-linejoin="round"/>
<path d="M583.5 655.9 H642.3 M624.3 643.4 L644.3 655.9 L624.3 668.4" fill="none" stroke="#0a0a0a" stroke-width="5" stroke-linecap="round" stroke-linejoin="round"/>
<path d="M1439.2 655.9 H1497.2 M1479.2 643.4 L1499.2 655.9 L1479.2 668.4" fill="none" stroke="#0a0a0a" stroke-width="5" stroke-linecap="round" stroke-linejoin="round"/>
<path d="M583.0 978.4 H642.3 M624.3 965.9 L644.3 978.4 L624.3 990.9" fill="none" stroke="#0a0a0a" stroke-width="5" stroke-linecap="round" stroke-linejoin="round"/>
<path d="M1436.7 972.3 H1497.2 M1479.2 959.8 L1499.2 972.3 L1479.2 984.8" fill="none" stroke="#0a0a0a" stroke-width="5" stroke-linecap="round" stroke-linejoin="round"/>
<rect x="141.2" y="281.7" width="361.6" height="140.1" rx="15" fill="none" stroke="#f4fffe" stroke-opacity="0.8" stroke-width="2"/>
<rect x="143.8" y="284.2" width="356.5" height="135.0" rx="14" fill="#0f1c29" stroke="#060a0e" stroke-width="3.5"/>
<rect x="781.8" y="281.6" width="436.0" height="149.2" rx="15" fill="none" stroke="#f4fffe" stroke-opacity="0.8" stroke-width="2"/>
<rect x="784.4" y="284.1" width="430.9" height="144.1" rx="14" fill="#0f1c29" stroke="#060a0e" stroke-width="3.5"/>
<rect x="141.2" y="584.9" width="426.1" height="141.4" rx="15" fill="none" stroke="#f4fffe" stroke-opacity="0.8" stroke-width="2"/>
<rect x="143.8" y="587.5" width="421.0" height="136.3" rx="14" fill="#0f1c29" stroke="#060a0e" stroke-width="3.5"/>
<rect x="662.2" y="585.2" width="765.6" height="140.6" rx="15" fill="none" stroke="#f4fffe" stroke-opacity="0.8" stroke-width="2"/>
<rect x="664.8" y="587.8" width="760.5" height="135.5" rx="14" fill="#0f1c29" stroke="#060a0e" stroke-width="3.5"/>
<rect x="141.2" y="893.9" width="426.1" height="168.9" rx="15" fill="none" stroke="#f4fffe" stroke-opacity="0.8" stroke-width="2"/>
<rect x="143.8" y="896.5" width="421.0" height="163.8" rx="14" fill="#0f1c29" stroke="#060a0e" stroke-width="3.5"/>
<rect x="661.5" y="880.6" width="765.3" height="194.2" rx="15" fill="none" stroke="#f4fffe" stroke-opacity="0.8" stroke-width="2"/>
<rect x="664.0" y="883.1" width="760.2" height="189.1" rx="14" fill="#0f1c29" stroke="#060a0e" stroke-width="3.5"/>
<text x="166.60" y="336.00" stroke-width="0.45" font-family='"Liberation Mono", monospace' font-size="33.00" textLength="307.42" lengthAdjust="spacingAndGlyphs"><tspan fill="#ecdb84" stroke="#ecdb84">h1</tspan><tspan fill="#e6e8ea" stroke="#e6e8ea">&#160;{&#160;</tspan><tspan fill="#86c4e4" stroke="#86c4e4">color</tspan><tspan fill="#e6e8ea" stroke="#e6e8ea">:&#160;</tspan><tspan fill="#5c88e2" stroke="#5c88e2">blue</tspan><tspan fill="#e6e8ea" stroke="#e6e8ea">;&#160;}</tspan></text>
<text x="166.60" y="390.00" stroke-width="0.45" font-family='"Liberation Mono", monospace' font-size="33.00" textLength="307.42" lengthAdjust="spacingAndGlyphs"><tspan fill="#ecdb84" stroke="#ecdb84">p</tspan><tspan fill="#e6e8ea" stroke="#e6e8ea">&#160;{&#160;</tspan><tspan fill="#86c4e4" stroke="#86c4e4">color</tspan><tspan fill="#e6e8ea" stroke="#e6e8ea">:&#160;</tspan><tspan fill="#8fd98b" stroke="#8fd98b">green</tspan><tspan fill="#e6e8ea" stroke="#e6e8ea">;&#160;}</tspan></text>
<text x="805.40" y="331.00" stroke-width="0.45" font-family='"Liberation Mono", monospace' font-size="31.50" textLength="388.96" lengthAdjust="spacingAndGlyphs"><tspan fill="#df7c7b" stroke="#df7c7b">&lt;h1&gt;</tspan><tspan fill="#f2f4f5" stroke="#f2f4f5">This&#160;is&#160;a&#160;Heading</tspan><tspan fill="#df7c7b" stroke="#df7c7b">&lt;/h1&gt;</tspan></text>
<text x="805.40" y="367.00" stroke-width="0.45" font-family='"Liberation Mono", monospace' font-size="31.50" textLength="269.28" lengthAdjust="spacingAndGlyphs"><tspan fill="#df7c7b" stroke="#df7c7b">&lt;p&gt;</tspan><tspan fill="#f2f4f5" stroke="#f2f4f5">Paragraph&#160;1</tspan><tspan fill="#df7c7b" stroke="#df7c7b">&lt;/p&gt;</tspan></text>
<text x="805.40" y="402.50" stroke-width="0.45" font-family='"Liberation Mono", monospace' font-size="31.50" textLength="269.28" lengthAdjust="spacingAndGlyphs"><tspan fill="#df7c7b" stroke="#df7c7b">&lt;p&gt;</tspan><tspan fill="#f2f4f5" stroke="#f2f4f5">Paragraph&#160;2</tspan><tspan fill="#df7c7b" stroke="#df7c7b">&lt;/p&gt;</tspan></text>
<text x="159.00" y="631.00" stroke-width="0.45" font-family='"Liberation Mono", monospace' font-size="30.00" textLength="173.40" lengthAdjust="spacingAndGlyphs"><tspan fill="#ecdb84" stroke="#ecdb84">.highlight</tspan><tspan fill="#e6e8ea" stroke="#e6e8ea">&#160;{</tspan></text>
<text x="159.00" y="666.00" stroke-width="0.45" font-family='"Liberation Mono", monospace' font-size="30.00" textLength="390.15" lengthAdjust="spacingAndGlyphs"><tspan fill="#86c4e4" stroke="#86c4e4">&#160;&#160;background-color</tspan><tspan fill="#e6e8ea" stroke="#e6e8ea">:&#160;</tspan><tspan fill="#e9dc82" stroke="#e9dc82">yellow</tspan><tspan fill="#e6e8ea" stroke="#e6e8ea">;</tspan></text>
<text x="159.00" y="700.00" stroke-width="0.45" font-family='"Liberation Mono", monospace' font-size="30.00" textLength="14.45" lengthAdjust="spacingAndGlyphs"><tspan fill="#e6e8ea" stroke="#e6e8ea">}</tspan></text>
<text x="683.80" y="633.60" stroke-width="0.45" font-family='"Liberation Mono", monospace' font-size="26.50" textLength="325.00" lengthAdjust="spacingAndGlyphs"><tspan fill="#df7c7b" stroke="#df7c7b">&lt;p&gt;</tspan><tspan fill="#f2f4f5" stroke="#f2f4f5">Standard&#160;paragraph.</tspan><tspan fill="#df7c7b" stroke="#df7c7b">&lt;/p&gt;</tspan></text>
<text x="683.80" y="664.00" stroke-width="0.45" font-family='"Liberation Mono", monospace' font-size="26.50" textLength="725.00" lengthAdjust="spacingAndGlyphs"><tspan fill="#df7c7b" stroke="#df7c7b">&lt;p&#160;</tspan><tspan fill="#98d68c" stroke="#98d68c">class="highlight"</tspan><tspan fill="#df7c7b" stroke="#df7c7b">&gt;</tspan><tspan fill="#f2f4f5" stroke="#f2f4f5">A&#160;paragraph&#160;with&#160;highlight&#160;class.</tspan><tspan fill="#df7c7b" stroke="#df7c7b">&lt;/p&gt;</tspan></text>
<text x="683.80" y="694.40" stroke-width="0.45" font-family='"Liberation Mono", monospace' font-size="26.50" textLength="700.00" lengthAdjust="spacingAndGlyphs"><tspan fill="#df7c7b" stroke="#df7c7b">&lt;div&#160;</tspan><tspan fill="#98d68c" stroke="#98d68c">class="highlight"</tspan><tspan fill="#df7c7b" stroke="#df7c7b">&gt;</tspan><tspan fill="#f2f4f5" stroke="#f2f4f5">A&#160;div&#160;with&#160;highlight&#160;class.</tspan><tspan fill="#df7c7b" stroke="#df7c7b">&lt;/div&gt;</tspan></text>
<text x="160.40" y="934.00" stroke-width="0.45" font-family='"Liberation Mono", monospace' font-size="30.00" textLength="272.65" lengthAdjust="spacingAndGlyphs"><tspan fill="#e9d585" stroke="#e9d585">#featured-article</tspan><tspan fill="#e6e8ea" stroke="#e6e8ea">&#160;{</tspan></text>
<text x="160.40" y="969.00" stroke-width="0.45" font-family='"Liberation Mono", monospace' font-size="30.00" textLength="387.45" lengthAdjust="spacingAndGlyphs"><tspan fill="#86c4e4" stroke="#86c4e4">&#160;&#160;border</tspan><tspan fill="#e6e8ea" stroke="#e6e8ea">:&#160;</tspan><tspan fill="#ebcf88" stroke="#ebcf88">3px&#160;solid&#160;orange</tspan><tspan fill="#e6e8ea" stroke="#e6e8ea">;</tspan></text>
<text x="160.40" y="1003.00" stroke-width="0.45" font-family='"Liberation Mono", monospace' font-size="30.00" textLength="229.60" lengthAdjust="spacingAndGlyphs"><tspan fill="#86c4e4" stroke="#86c4e4">&#160;&#160;padding</tspan><tspan fill="#e6e8ea" stroke="#e6e8ea">:&#160;</tspan><tspan fill="#ebcf88" stroke="#ebcf88">10px</tspan><tspan fill="#e6e8ea" stroke="#e6e8ea">;</tspan></text>
<text x="160.40" y="1037.00" stroke-width="0.45" font-family='"Liberation Mono", monospace' font-size="30.00" textLength="14.35" lengthAdjust="spacingAndGlyphs"><tspan fill="#e6e8ea" stroke="#e6e8ea">}</tspan></text>
<text x="682.00" y="918.80" stroke-width="0.45" font-family='"Liberation Mono", monospace' font-size="29.50" textLength="365.82" lengthAdjust="spacingAndGlyphs"><tspan fill="#df7c7b" stroke="#df7c7b">&lt;p&gt;</tspan><tspan fill="#f2f4f5" stroke="#f2f4f5">A&#160;normal&#160;paragraph.</tspan><tspan fill="#df7c7b" stroke="#df7c7b">&lt;/p&gt;</tspan></text>
<text x="682.00" y="952.00" stroke-width="0.45" font-family='"Liberation Mono", monospace' font-size="29.50" textLength="379.89" lengthAdjust="spacingAndGlyphs"><tspan fill="#df7c7b" stroke="#df7c7b">&lt;div&#160;</tspan><tspan fill="#98d68c" stroke="#98d68c">id="featured-article"</tspan><tspan fill="#df7c7b" stroke="#df7c7b">&gt;</tspan></text>
<text x="682.00" y="986.70" stroke-width="0.45" font-family='"Liberation Mono", monospace' font-size="29.50" textLength="717.57" lengthAdjust="spacingAndGlyphs"><tspan fill="#df7c7b" stroke="#df7c7b">&#160;&#160;&lt;h2&gt;</tspan><tspan fill="#f2f4f5" stroke="#f2f4f5">Featured&#160;Article</tspan><tspan fill="#df7c7b" stroke="#df7c7b">&lt;/h2&gt;&#160;</tspan><tspan fill="#df7c7b" stroke="#df7c7b">&lt;p&gt;</tspan><tspan fill="#f2f4f5" stroke="#f2f4f5">Article&#160;content.</tspan><tspan fill="#df7c7b" stroke="#df7c7b">&lt;/p&gt;</tspan></text>
<text x="682.00" y="1020.00" stroke-width="0.45" font-family='"Liberation Mono", monospace' font-size="29.50" textLength="84.42" lengthAdjust="spacingAndGlyphs"><tspan fill="#df7c7b" stroke="#df7c7b">&lt;/div&gt;</tspan></text>
<text x="682.00" y="1054.00" stroke-width="0.45" font-family='"Liberation Mono", monospace' font-size="29.50" textLength="450.24" lengthAdjust="spacingAndGlyphs"><tspan fill="#df7c7b" stroke="#df7c7b">&lt;p&gt;</tspan><tspan fill="#f2f4f5" stroke="#f2f4f5">Another&#160;normal&#160;paragraph.</tspan><tspan fill="#df7c7b" stroke="#df7c7b">&lt;/p&gt;</tspan></text>
<rect x="1513.6" y="260.2" width="343.2" height="183.0" rx="13" fill="none" stroke="#f4fffe" stroke-opacity="0.7" stroke-width="2"/>
<rect x="1515.9" y="262.5" width="338.6" height="178.4" rx="12" fill="#fdfdfe"/>
<path d="M1515.9 295.0 V274.5 Q1515.9 262.5 1527.9 262.5 H1842.5 Q1854.5 262.5 1854.5 274.5 V295.0 Z" fill="#8fc1e6"/>
<line x1="1515.9" y1="295.0" x2="1854.5" y2="295.0" stroke="#1f3347" stroke-width="3"/>
<rect x="1515.9" y="262.5" width="338.6" height="178.4" rx="12" fill="none" stroke="#1f3347" stroke-width="3.2"/>
<circle cx="1531.4" cy="278.5" r="7" fill="#e26464"/>
<circle cx="1551.4" cy="278.5" r="7" fill="#f2c043"/>
<circle cx="1571.4" cy="278.5" r="7" fill="#2fbf5a"/>
<text x="1622.55" y="286.60" font-family='"Liberation Sans", sans-serif' font-size="23.26" font-weight="bold" textLength="122.47" lengthAdjust="spacingAndGlyphs"><tspan fill="#0f1a26">PAGE&#160;VIEW</tspan></text>
<rect x="1513.6" y="537.2" width="343.2" height="214.2" rx="13" fill="none" stroke="#f4fffe" stroke-opacity="0.7" stroke-width="2"/>
<rect x="1515.9" y="539.5" width="338.6" height="209.6" rx="12" fill="#fdfdfe"/>
<path d="M1515.9 572.0 V551.5 Q1515.9 539.5 1527.9 539.5 H1842.5 Q1854.5 539.5 1854.5 551.5 V572.0 Z" fill="#8fc1e6"/>
<line x1="1515.9" y1="572.0" x2="1854.5" y2="572.0" stroke="#1f3347" stroke-width="3"/>
<rect x="1515.9" y="539.5" width="338.6" height="209.6" rx="12" fill="none" stroke="#1f3347" stroke-width="3.2"/>
<circle cx="1531.4" cy="555.5" r="7" fill="#e26464"/>
<circle cx="1551.4" cy="555.5" r="7" fill="#f2c043"/>
<circle cx="1571.4" cy="555.5" r="7" fill="#2fbf5a"/>
<text x="1623.26" y="563.50" font-family='"Liberation Sans", sans-serif' font-size="22.53" font-weight="bold" textLength="121.76" lengthAdjust="spacingAndGlyphs"><tspan fill="#0f1a26">PAGE&#160;VIEW</tspan></text>
<rect x="1514.0" y="858.1" width="341.6" height="201.7" rx="13" fill="none" stroke="#f4fffe" stroke-opacity="0.7" stroke-width="2"/>
<rect x="1516.3" y="860.4" width="337.0" height="197.1" rx="12" fill="#fdfdfe"/>
<path d="M1516.3 892.4 V872.4 Q1516.3 860.4 1528.3 860.4 H1841.3 Q1853.3 860.4 1853.3 872.4 V892.4 Z" fill="#8fc1e6"/>
<line x1="1516.3" y1="892.4" x2="1853.3" y2="892.4" stroke="#1f3347" stroke-width="3"/>
<rect x="1516.3" y="860.4" width="337.0" height="197.1" rx="12" fill="none" stroke="#1f3347" stroke-width="3.2"/>
<circle cx="1531.8" cy="876.1" r="7" fill="#e26464"/>
<circle cx="1551.8" cy="876.1" r="7" fill="#f2c043"/>
<circle cx="1571.8" cy="876.1" r="7" fill="#2fbf5a"/>
<text x="1623.17" y="884.00" font-family='"Liberation Sans", sans-serif' font-size="22.24" font-weight="bold" textLength="121.25" lengthAdjust="spacingAndGlyphs"><tspan fill="#0f1a26">PAGE&#160;VIEW</tspan></text>
<text x="1527.43" y="338.00" font-family='"Liberation Sans", sans-serif' font-size="33.12" font-weight="bold" textLength="309.64" lengthAdjust="spacingAndGlyphs"><tspan fill="#1a1cb3">h1&gt;This&#160;is&#160;a&#160;Heading</tspan></text>
<text x="1527.88" y="378.60" font-family='"Liberation Sans", sans-serif' font-size="22.67" font-weight="normal" textLength="163.72" lengthAdjust="spacingAndGlyphs"><tspan fill="#2b802f" stroke="#2b802f" stroke-width="0.35">&lt;p&gt;Paragraph&#160;1</tspan></text>
<text x="1527.88" y="416.50" font-family='"Liberation Sans", sans-serif' font-size="22.67" font-weight="normal" textLength="163.76" lengthAdjust="spacingAndGlyphs"><tspan fill="#2b802f" stroke="#2b802f" stroke-width="0.35">&lt;p&gt;Paragraph&#160;2</tspan></text>
<text x="1529.36" y="603.00" font-family='"Liberation Sans", sans-serif' font-size="23.26" font-weight="normal" textLength="252.76" lengthAdjust="spacingAndGlyphs"><tspan fill="#111418" stroke="#111418" stroke-width="0.35">&lt;p&gt;Standard&#160;paragraph.</tspan></text>
<rect x="1525.8" y="617.6" width="318.2" height="54.4" fill="#fff524"/>
<rect x="1525.8" y="681.5" width="318.2" height="54.5" fill="#fff524"/>
<text x="1529.83" y="640.00" font-family='"Liberation Sans", sans-serif' font-size="23.26" font-weight="normal" textLength="237.22" lengthAdjust="spacingAndGlyphs"><tspan fill="#15161a" stroke="#15161a" stroke-width="0.35">&lt;p&#160;class="highlight"&gt;A</tspan></text>
<text x="1529.33" y="666.00" font-family='"Liberation Sans", sans-serif' font-size="23.26" font-weight="normal" textLength="158.38" lengthAdjust="spacingAndGlyphs"><tspan fill="#15161a" stroke="#15161a" stroke-width="0.35">highlight&#160;class.</tspan></text>
<text x="1529.82" y="703.00" font-family='"Liberation Sans", sans-serif' font-size="23.26" font-weight="normal" textLength="291.86" lengthAdjust="spacingAndGlyphs"><tspan fill="#15161a" stroke="#15161a" stroke-width="0.35">&lt;div&#160;class="highlight"&gt;A&#160;div</tspan></text>
<text x="1531.04" y="729.00" font-family='"Liberation Sans", sans-serif' font-size="23.26" font-weight="normal" textLength="208.17" lengthAdjust="spacingAndGlyphs"><tspan fill="#15161a" stroke="#15161a" stroke-width="0.35">with&#160;highlight&#160;class.</tspan></text>
<rect x="1535.5" y="909" width="299" height="91.8" fill="none" stroke="#f49b1f" stroke-width="6" rx="2"/>
<text x="1549.58" y="948.00" font-family='"Liberation Sans", sans-serif' font-size="30.52" font-weight="bold" textLength="229.45" lengthAdjust="spacingAndGlyphs"><tspan fill="#0d0f12">Featured&#160;Article</tspan></text>
<text x="1549.81" y="985.00" font-family='"Liberation Sans", sans-serif' font-size="23.26" font-weight="normal" textLength="201.19" lengthAdjust="spacingAndGlyphs"><tspan fill="#111418" stroke="#111418" stroke-width="0.35">&lt;p&gt;Article&#160;content.</tspan></text>
<text x="1539.84" y="1036.00" font-family='"Liberation Sans", sans-serif' font-size="22.53" font-weight="normal" textLength="242.29" lengthAdjust="spacingAndGlyphs"><tspan fill="#111418" stroke="#111418" stroke-width="0.35">&lt;p&gt;Another&#160;paragraph.</tspan></text>
<text x="1437.34" y="1104.00" font-family='"Liberation Sans", sans-serif' font-size="24.71" font-weight="normal" textLength="544.00" lengthAdjust="spacingAndGlyphs"><tspan fill="#0d0f12" stroke="#0d0f12" stroke-width="0.35" font-weight="bold">*Notes:</tspan><tspan fill="#15171a" stroke="#15171a" stroke-width="0.35" font-weight="normal">&#160;Class&#160;is&#160;reusable,&#160;ID&#160;must&#160;be&#160;unique&#160;per&#160;page.*</tspan></text>
<line x1="88.9" y1="102.1" x2="79.0" y2="112.5" stroke="#1f2f45" stroke-width="12.0"/>
<line x1="88.9" y1="102.1" x2="79.0" y2="112.5" stroke="#c9ced8" stroke-width="7.0"/>
<line x1="79.0" y1="112.5" x2="49.5" y2="141.5" stroke="#1f2f45" stroke-width="18.0" stroke-linecap="round"/>
<line x1="79.0" y1="112.5" x2="49.5" y2="141.5" stroke="#ef8c52" stroke-width="13.0" stroke-linecap="round"/>
<circle cx="116.3" cy="75.2" r="39.7" fill="#b6bbc8" stroke="#1f2f45" stroke-width="3.39"/>
<circle cx="116.3" cy="75.2" r="29.5" fill="#92d6f2" stroke="#1f2f45" stroke-width="3.19"/>
<circle cx="114.8" cy="72.8" r="24.2" fill="#a2def6"/>
<path d="M104.9 60.3 Q115.3 53.5 126.6 60.3" fill="none" stroke="#1f2f45" stroke-width="2.4" stroke-linecap="round"/>
<circle cx="130.3" cy="63.2" r="1.5" fill="#1f2f45"/>
<line x1="1943.2" y1="476.2" x2="1951.5" y2="484.5" stroke="#1f2f45" stroke-width="11.0"/>
<line x1="1943.2" y1="476.2" x2="1951.5" y2="484.5" stroke="#c9ced8" stroke-width="6.0"/>
<line x1="1951.5" y1="484.5" x2="1970.5" y2="504.0" stroke="#1f2f45" stroke-width="15.0" stroke-linecap="round"/>
<line x1="1951.5" y1="484.5" x2="1970.5" y2="504.0" stroke="#ef8c52" stroke-width="10.0" stroke-linecap="round"/>
<circle cx="1923.9" cy="456.4" r="29.3" fill="#b6bbc8" stroke="#1f2f45" stroke-width="2.51"/>
<circle cx="1923.9" cy="456.4" r="22.0" fill="#92d6f2" stroke="#1f2f45" stroke-width="2.36"/>
<circle cx="1922.8" cy="454.6" r="18.0" fill="#a2def6"/>
<path d="M1915.4 445.3 Q1923.1 440.2 1931.6 445.3" fill="none" stroke="#1f2f45" stroke-width="1.8" stroke-linecap="round"/>
<circle cx="1934.4" cy="447.5" r="1.1" fill="#1f2f45"/>
<line x1="59.3" y1="845.6" x2="51.0" y2="851.0" stroke="#1f2f45" stroke-width="11.0"/>
<line x1="59.3" y1="845.6" x2="51.0" y2="851.0" stroke="#c9ced8" stroke-width="6.0"/>
<line x1="51.0" y1="851.0" x2="30.5" y2="873.0" stroke="#1f2f45" stroke-width="15.0" stroke-linecap="round"/>
<line x1="51.0" y1="851.0" x2="30.5" y2="873.0" stroke="#ef8c52" stroke-width="10.0" stroke-linecap="round"/>
<circle cx="78.3" cy="825.2" r="29.6" fill="#b6bbc8" stroke="#1f2f45" stroke-width="2.53"/>
<circle cx="78.3" cy="825.2" r="22.5" fill="#92d6f2" stroke="#1f2f45" stroke-width="2.38"/>
<circle cx="77.2" cy="823.4" r="18.4" fill="#a2def6"/>
<path d="M69.6 813.9 Q77.5 808.7 86.2 813.9" fill="none" stroke="#1f2f45" stroke-width="1.8" stroke-linecap="round"/>
<circle cx="89.0" cy="816.1" r="1.1" fill="#1f2f45"/>
<rect x="1821" y="30" width="135" height="122" rx="10" fill="#4a5770" stroke="#1b2a44" stroke-width="3.2"/>
<path d="M1822.6 53.3 V40 Q1822.6 31.6 1831 31.6 H1946 Q1954.4 31.6 1954.4 40 V53.3 Z" fill="#5b8ad3"/>
<line x1="1822.6" y1="53.3" x2="1954.4" y2="53.3" stroke="#1b2a44" stroke-width="3"/>
<circle cx="1832.3" cy="42" r="4.6" fill="#e06a78" stroke="#1b2a44" stroke-width="2"/>
<circle cx="1847.0" cy="42" r="4.6" fill="#f0d880" stroke="#1b2a44" stroke-width="2"/>
<circle cx="1862.0" cy="42" r="4.6" fill="#35b57a" stroke="#1b2a44" stroke-width="2"/>
<path d="M1844 64.5 L1835 74 L1844 83.5 M1857.5 62.5 L1850 86 M1863 64.5 L1872 74 L1863 83.5" fill="none" stroke="#e9d28c" stroke-width="2.6" stroke-linecap="round" stroke-linejoin="round"/>
<line x1="1838.0" y1="94.0" x2="1854.0" y2="94.0" stroke="#e46b74" stroke-width="3.6" stroke-linecap="round"/>
<line x1="1865.0" y1="94.0" x2="1915.6" y2="94.0" stroke="#7ec2e0" stroke-width="3.6" stroke-linecap="round"/>
<line x1="1927.0" y1="94.0" x2="1938.5" y2="94.0" stroke="#7ec2e0" stroke-width="3.6" stroke-linecap="round"/>
<line x1="1852.0" y1="104.4" x2="1875.6" y2="104.4" stroke="#e46b74" stroke-width="3.6" stroke-linecap="round"/>
<line x1="1887.0" y1="104.4" x2="1908.4" y2="104.4" stroke="#7ec2e0" stroke-width="3.6" stroke-linecap="round"/>
<line x1="1852.4" y1="115.1" x2="1888.7" y2="115.1" stroke="#ecd488" stroke-width="3.6" stroke-linecap="round"/>
<line x1="1899.5" y1="115.1" x2="1912.0" y2="115.1" stroke="#ecd488" stroke-width="3.6" stroke-linecap="round"/>
<line x1="1922.0" y1="115.1" x2="1935.5" y2="115.1" stroke="#6fc08a" stroke-width="3.6" stroke-linecap="round"/>
<line x1="1852.4" y1="125.9" x2="1863.5" y2="125.9" stroke="#e46b74" stroke-width="3.6" stroke-linecap="round"/>
<line x1="1874.6" y1="125.9" x2="1901.4" y2="125.9" stroke="#6fc08a" stroke-width="3.6" stroke-linecap="round"/>
<line x1="1838.0" y1="136.7" x2="1848.0" y2="136.7" stroke="#7ec2e0" stroke-width="3.6" stroke-linecap="round"/>
<line x1="1857.0" y1="136.7" x2="1860.6" y2="136.7" stroke="#7ec2e0" stroke-width="3.6" stroke-linecap="round"/>
<g transform="translate(69,489.5) rotate(-8.6)">
 <rect x="-42" y="-43.5" width="84" height="87" rx="7" fill="#e6e9f6" stroke="#1f3350" stroke-width="2.6"/>
 <path d="M-40.7 -29 V-36 Q-40.7 -42.2 -34.5 -42.2 H34.5 Q40.7 -42.2 40.7 -36 V-29 Z" fill="#5b8ad3"/>
 <line x1="-40.7" y1="-29" x2="40.7" y2="-29" stroke="#1f3350" stroke-width="2.4"/>
 <circle cx="-32" cy="-35.5" r="3.2" fill="#e47a8a" stroke="#1f3350" stroke-width="1.5"/>
 <circle cx="-23" cy="-35.5" r="3.2" fill="#d8e6d0" stroke="#1f3350" stroke-width="1.5"/>
 <circle cx="-14" cy="-35.5" r="3.2" fill="#5cbf6a" stroke="#1f3350" stroke-width="1.5"/>
 <line x1="-31" y1="-18" x2="-5" y2="-18" stroke="#b6bccb" stroke-width="3.5" stroke-linecap="round"/>
 <line x1="-30" y1="-9" x2="5" y2="-9" stroke="#b6bccb" stroke-width="3.5" stroke-linecap="round"/>
 <line x1="-29" y1="0" x2="-10" y2="0" stroke="#b6bccb" stroke-width="3.5" stroke-linecap="round"/>
 <line x1="-28" y1="9" x2="-11" y2="9" stroke="#b6bccb" stroke-width="3.5" stroke-linecap="round"/>
 <line x1="24" y1="18" x2="37" y2="25" stroke="#1f3350" stroke-width="7.5" stroke-linecap="round"/>
 <line x1="24" y1="18" x2="37" y2="25" stroke="#ee8a4c" stroke-width="4" stroke-linecap="round"/>
 <circle cx="12" cy="11" r="14.3" fill="#b7c3d8" stroke="#1f3350" stroke-width="2.4"/>
 <circle cx="12" cy="11" r="10.2" fill="#98d8f4" stroke="#1f3350" stroke-width="2.2"/>
</g>
<g transform="translate(1928,785.5) rotate(9.2)">
 <rect x="-43" y="-38" width="86" height="76" rx="7" fill="#e6e9f6" stroke="#1f3350" stroke-width="2.8"/>
 <path d="M-41.6 -23.5 V-30.5 Q-41.6 -36.6 -35.5 -36.6 H35.5 Q41.6 -36.6 41.6 -30.5 V-23.5 Z" fill="#5b8ad3"/>
 <line x1="-41.6" y1="-23.5" x2="41.6" y2="-23.5" stroke="#1f3350" stroke-width="2.4"/>
 <circle cx="-33" cy="-30" r="3.2" fill="#e47a8a" stroke="#1f3350" stroke-width="1.5"/>
 <circle cx="-24" cy="-30" r="3.2" fill="#d8e6c0" stroke="#1f3350" stroke-width="1.5"/>
 <circle cx="-15" cy="-30" r="3.2" fill="#8fd0a0" stroke="#1f3350" stroke-width="1.5"/>
 <path d="M-13 -6 L-28 5 L-15 17 M6 -10 L-4 21 M14 -2 L28 8 L15 19" fill="none" stroke="#1f3350" stroke-width="8.5" stroke-linecap="round" stroke-linejoin="round"/>
 <path d="M-13 -6 L-28 5 L-15 17 M6 -10 L-4 21 M14 -2 L28 8 L15 19" fill="none" stroke="#e06c78" stroke-width="5" stroke-linecap="round" stroke-linejoin="round"/>
</g>
</svg>
</body></html>
